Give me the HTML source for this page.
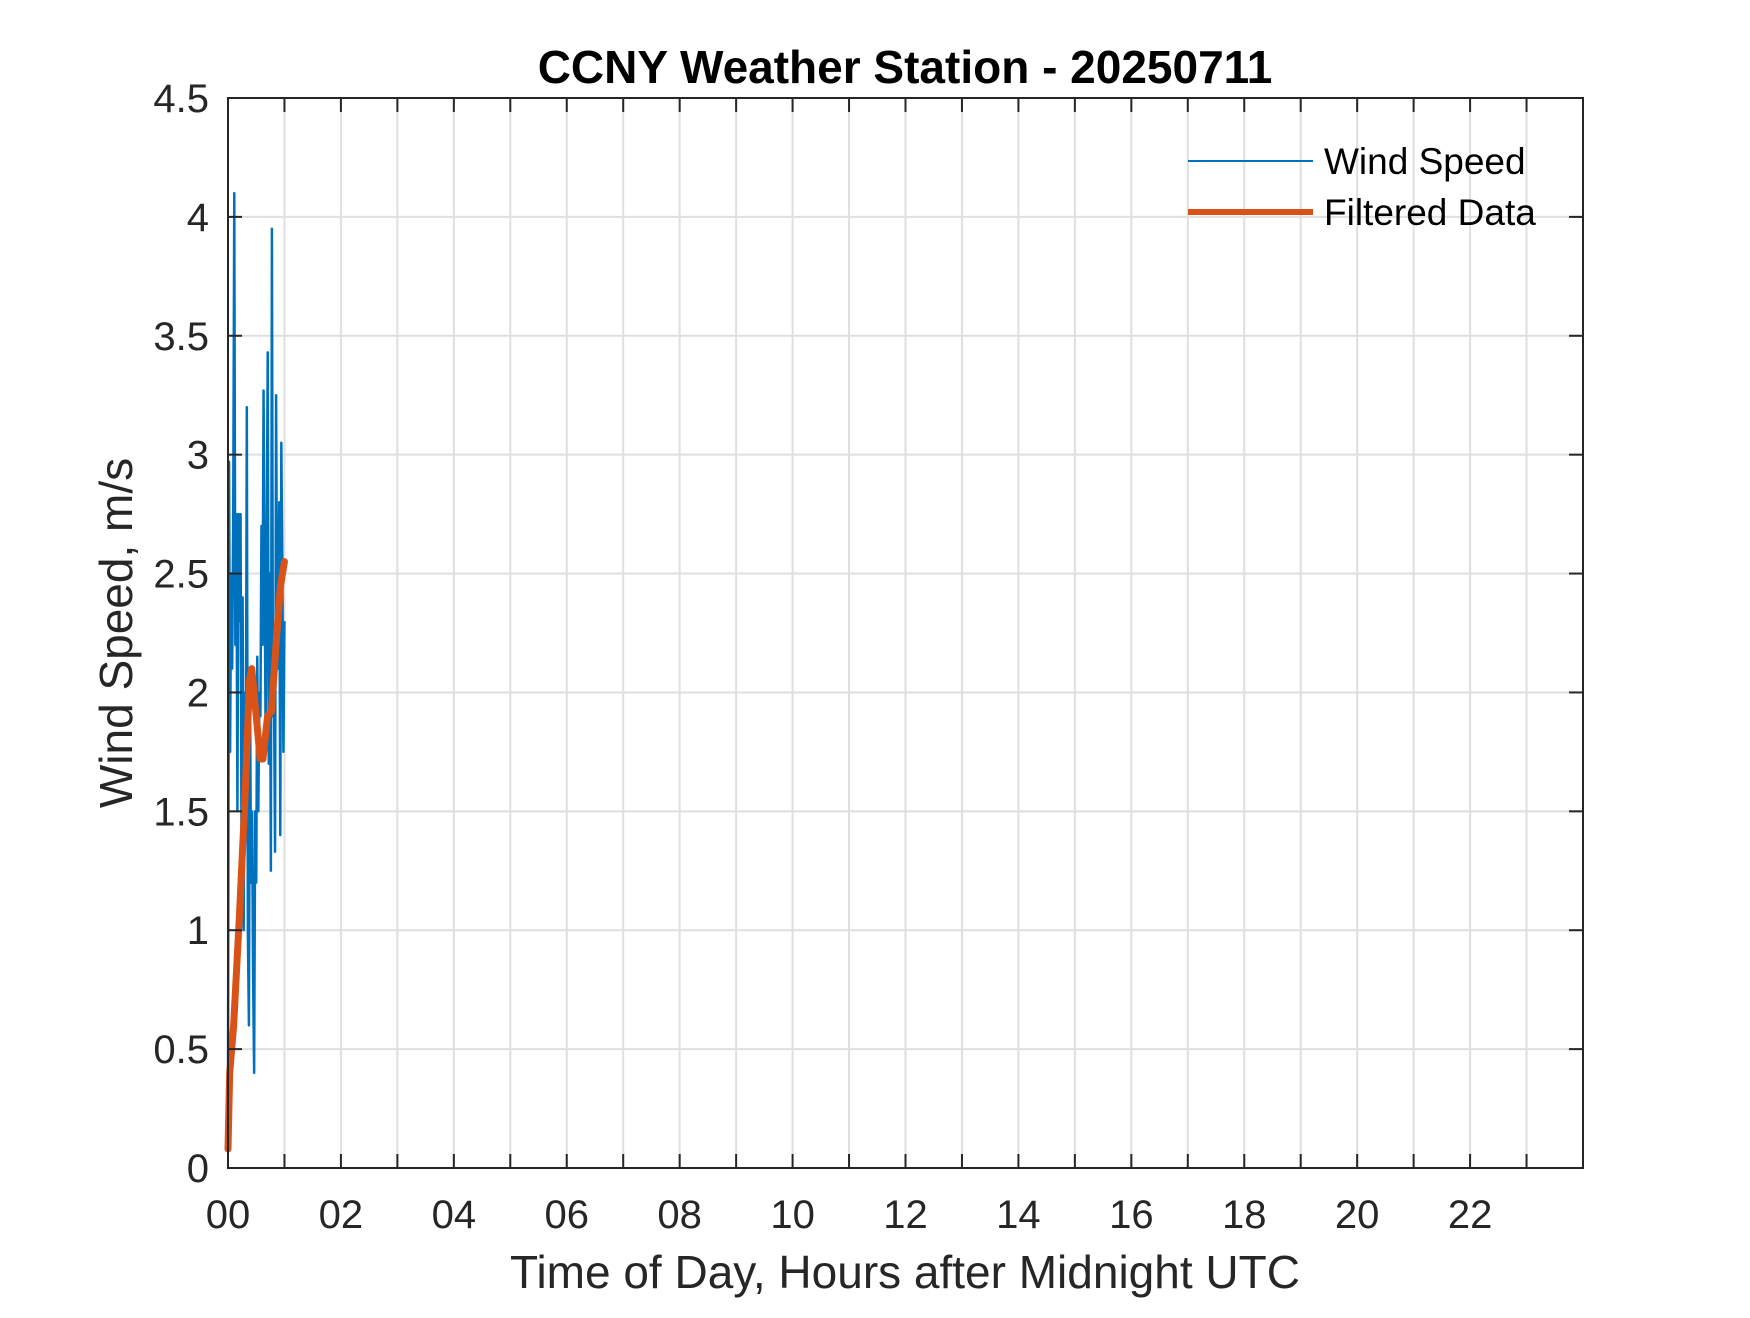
<!DOCTYPE html>
<html><head><meta charset="utf-8"><style>
body{margin:0;background:#fff;}
svg text{font-family:"Liberation Sans",Arial,sans-serif;fill:#262626;}
</style></head><body>
<svg id="chart" width="1750" height="1313" xmlns="http://www.w3.org/2000/svg">
<rect width="1750" height="1313" fill="#fff"/>
<g id="grid"></g>
<g id="series"></g>
<rect x="228" y="98" width="1355" height="1070" fill="none" stroke="#262626" stroke-width="2"/>
<g id="ticks"></g>
<text x="905" y="83" text-anchor="middle" font-size="46" font-weight="bold" style="fill:#000">CCNY Weather Station - 20250711</text>
<text x="905" y="1288" text-anchor="middle" font-size="46">Time of Day, Hours after Midnight UTC</text>
<text transform="translate(132,633) rotate(-90)" text-anchor="middle" font-size="46">Wind Speed, m/s</text>
<g>
<line x1="1188" y1="161" x2="1313" y2="161" stroke="#0072BD" stroke-width="2"/>
<text x="1324" y="174" font-size="37" style="fill:#000">Wind Speed</text>
<line x1="1188" y1="212" x2="1313" y2="212" stroke="#D95319" stroke-width="6"/>
<text x="1324" y="225" font-size="37" style="fill:#000">Filtered Data</text>
</g>
</svg>
<script>
const windValues=[0.3,2.97,1.75,2.5,2.1,2.75,4.1,2.2,2.75,1.5,2.75,2.3,2.75,1.2,2.4,1.0,2.0,1.6,3.2,1.0,0.6,2.1,1.2,1.5,0.8,0.4,1.5,1.2,2.15,1.5,2.0,1.9,2.7,2.2,3.27,2.5,1.8,2.6,3.43,1.7,2.5,1.25,3.95,1.9,2.0,1.33,3.25,2.2,2.1,2.8,1.4,3.05,2.5,1.75,2.3];
const filteredHours=[0,0.03,0.1,0.2,0.3,0.38,0.42,0.5,0.57,0.62,0.7,0.77,0.85,0.93,1.0];
const filteredValues=[0.08,0.4,0.6,1.05,1.55,2.05,2.1,1.9,1.72,1.72,1.9,1.92,2.2,2.45,2.55];
const yTicks=[0,0.5,1,1.5,2,2.5,3,3.5,4,4.5];
const xTickLabels=['00','02','04','06','08','10','12','14','16','18','20','22'];
const X0=228,X1=1583,Y0=1168,Y1=98;
const xs=h=>X0+(h/24)*(X1-X0);
const ys=v=>Y0-(v/4.5)*(Y0-Y1);
const NS='http://www.w3.org/2000/svg';
function mk(tag,attrs,parent){const e=document.createElementNS(NS,tag);for(const k in attrs)e.setAttribute(k,attrs[k]);document.getElementById(parent).appendChild(e);return e;}
for(let h=1;h<24;h++){
  const g=mk('line',{x1:xs(h),x2:xs(h),y1:Y1,y2:Y0,stroke:'#dfdfdf','stroke-width':2},'grid');
  
  
  const t1=mk('line',{x1:xs(h),x2:xs(h),y1:Y0,y2:Y0-14,stroke:'#262626','stroke-width':2},'ticks');
  
  
  const t2=mk('line',{x1:xs(h),x2:xs(h),y1:Y1,y2:Y1+14,stroke:'#262626','stroke-width':2},'ticks');
  
  
}
xTickLabels.forEach((l,i)=>{
  const t=mk('text',{x:xs(i*2),y:1228,'text-anchor':'middle','font-size':40},'ticks');
  t.textContent=l;
  
  
});
yTicks.forEach(v=>{
  if(v>0&&v<4.5){
    const g=mk('line',{x1:X0,x2:X1,y1:ys(v),y2:ys(v),stroke:'#dfdfdf','stroke-width':2},'grid');
    
    
  }
  const a=mk('line',{x1:X0,x2:X0+14,y1:ys(v),y2:ys(v),stroke:'#262626','stroke-width':2},'ticks');
  
  
  const b=mk('line',{x1:X1,x2:X1-14,y1:ys(v),y2:ys(v),stroke:'#262626','stroke-width':2},'ticks');
  
  
  const t=mk('text',{x:209,y:ys(v)+14,'text-anchor':'end','font-size':40},'ticks');
  t.textContent=String(v);
  
  
});
const n=windValues.length;
const wp=windValues.map((v,i)=>xs(i/(n-1))+','+ys(v)).join(' ');
const w=mk('polyline',{points:wp,fill:'none',stroke:'#0072BD','stroke-width':2.5,'stroke-linejoin':'round'},'series');


const fp=filteredHours.map((h,i)=>xs(h)+','+ys(filteredValues[i])).join(' ');
const f=mk('polyline',{points:fp,fill:'none',stroke:'#D95319','stroke-width':7,'stroke-linejoin':'round','stroke-linecap':'round'},'series');


</script>
</body></html>
